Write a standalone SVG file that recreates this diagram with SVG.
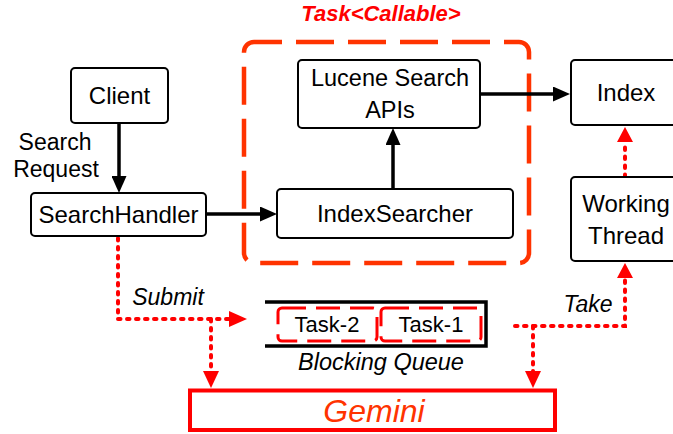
<svg xmlns="http://www.w3.org/2000/svg" width="673" height="434" viewBox="0 0 673 434">
<style>
.box{fill:#fff;stroke:#000;stroke-width:2}
.t{font-family:"Liberation Sans",Arial,sans-serif;font-size:24px;fill:#000;text-anchor:middle}
.it{font-style:italic}
.arr{fill:none;stroke:#000;stroke-width:3.5}
.dot{fill:none;stroke:#ff0000;stroke-width:4;stroke-dasharray:2.5 6.5;stroke-linecap:round}
.task{fill:#fff;stroke:#ff0000;stroke-width:3;stroke-dasharray:24 10}
.rh{fill:#ff0000}
</style>
<defs>
<marker id="ab" markerUnits="userSpaceOnUse" markerWidth="17" markerHeight="15" viewBox="0 0 17 15" refX="3" refY="7.5" orient="auto">
<path d="M0,0 L17,7.5 L0,15 z" fill="#000"/>
</marker>
</defs>

<g id="task-callable">
<rect x="244" y="42" width="285" height="221" rx="10" fill="none" stroke="#ff3300" stroke-width="4.5" stroke-dasharray="38 14" stroke-dashoffset="10"/>
<text x="381" y="21" class="t" style="font-weight:bold;font-style:italic;font-size:22px;fill:#ff0000">Task&lt;Callable&gt;</text>
</g>

<g id="connectors">
<path class="arr" d="M119,123 V179" marker-end="url(#ab)"/>
<path class="arr" d="M206,214 H263" marker-end="url(#ab)"/>
<path class="arr" d="M393,189 V142" marker-end="url(#ab)"/>
<path class="arr" d="M480,94 H556" marker-end="url(#ab)"/>
<path class="dot" d="M625,177 V143"/>
<path class="dot" d="M118,238 V319 H231"/>
<path class="dot" d="M211,319 V372"/>
<path class="dot" d="M515,326 H625 V278"/>
<path class="dot" d="M533,326 V373"/>
<path class="rh" d="M617,142 L625,127 L633,142 z"/>
<path class="rh" d="M617,278 L625,263 L633,278 z"/>
<path class="rh" d="M229,311 L247,319 L229,327 z"/>
<path class="rh" d="M203,371 L211,388 L219,371 z"/>
<path class="rh" d="M525,371 L533,388 L541,371 z"/>
<text x="168" y="305" class="t it" style="font-size:23px">Submit</text>
<text x="588" y="312" class="t it" style="font-size:23px">Take</text>
</g>

<g id="client">
<rect class="box" x="71" y="68" width="97" height="55" rx="4"/>
<text x="119.5" y="104" class="t">Client</text>
</g>
<g id="search-request-label">
<text x="55" y="150" class="t" style="font-size:23px">Search</text>
<text x="56" y="177" class="t" style="font-size:23px">Request</text>
</g>
<g id="searchhandler">
<rect class="box" x="31" y="193" width="175" height="43" rx="4"/>
<text x="118.5" y="223" class="t">SearchHandler</text>
</g>
<g id="lucene">
<rect class="box" x="298" y="60" width="182" height="68" rx="4"/>
<text x="390" y="86" class="t" style="font-size:23.5px">Lucene Search</text>
<text x="390" y="118" class="t" style="font-size:23.5px">APIs</text>
</g>
<g id="indexsearcher">
<rect class="box" x="277" y="189" width="236" height="49" rx="4"/>
<text x="395" y="222" class="t">IndexSearcher</text>
</g>
<g id="index">
<rect class="box" x="571" y="60" width="112" height="65" rx="4"/>
<text x="626" y="101" class="t">Index</text>
</g>
<g id="working-thread">
<rect class="box" x="571" y="177" width="112" height="84" rx="4"/>
<text x="626" y="212" class="t">Working</text>
<text x="626" y="244" class="t">Thread</text>
</g>
<g id="blocking-queue">
<path d="M265,302 H486 V346 H265" fill="none" stroke="#000" stroke-width="3.5"/>
<rect class="task" x="278" y="308" width="99" height="33" rx="4"/>
<rect class="task" x="381" y="308" width="100" height="33" rx="4"/>
<text x="327" y="332" class="t" style="font-size:22px">Task-2</text>
<text x="431" y="332" class="t" style="font-size:22px">Task-1</text>
<text x="381" y="370" class="t it" style="font-size:23.5px">Blocking Queue</text>
</g>
<g id="gemini">
<rect x="190" y="390.5" width="365" height="39.5" fill="#fff" stroke="#ff0000" stroke-width="4"/>
<text x="374" y="422" class="t it" style="font-size:32px;fill:#ff3300">Gemini</text>
</g>
</svg>
